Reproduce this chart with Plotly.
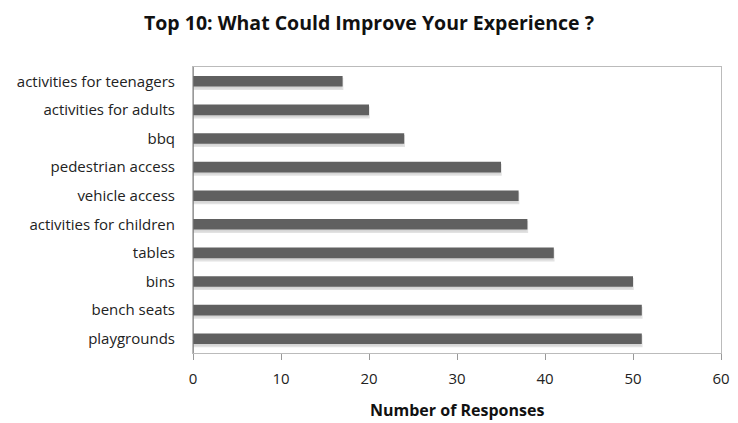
import plotly.graph_objects as go

categories = ["playgrounds", "bench seats", "bins", "tables", "activities for children",
              "vehicle access", "pedestrian access", "bbq", "activities for adults",
              "activities for teenagers"]
responses = [51, 51, 50, 41, 38, 37, 35, 24, 20, 17]
x_ticks = [0, 10, 20, 30, 40, 50, 60]

BAR_W = 0.37

fig = go.Figure()
# soft drop shadow
fig.add_trace(go.Bar(
    x=responses, y=categories, orientation="h",
    width=BAR_W, offset=-BAR_W / 2 - 0.09,
    marker=dict(color="#d6d6d6", line=dict(width=1.5, color="#e2e2e2")),
    hoverinfo="skip",
))
fig.add_trace(go.Bar(
    x=responses, y=categories, orientation="h",
    width=BAR_W, offset=-BAR_W / 2,
    marker=dict(color="#606060", line=dict(width=0)),
))

fig.update_layout(
    width=738, height=423,
    margin=dict(l=193, r=17, t=67, b=70),
    paper_bgcolor="white", plot_bgcolor="white",
    barmode="overlay",
    showlegend=False,
    font=dict(family="Open Sans", color="#111111"),
    title=dict(text="<b>Top 10: What Could Improve Your Experience ?</b>",
               x=0.5, xanchor="center", y=0.945, yanchor="middle",
               font=dict(size=19.5, family="Open Sans", color="#111111")),
    xaxis=dict(range=[0, 60], tickvals=x_ticks, showgrid=False,
               automargin=False,
               ticks="outside", ticklen=6, tickcolor="#999999",
               showline=True, linecolor="#bbbbbb", mirror=True,
               ticklabelstandoff=6,
               tickfont=dict(size=15, color="#222222"),
               zeroline=False),
    yaxis=dict(showgrid=False, automargin=False,
               showline=True, linecolor="#bbbbbb", mirror=True,
               ticks="", ticklabelstandoff=14,
               tickfont=dict(size=15, color="#222222")),
    annotations=[dict(text="<b>Number of Responses</b>", xref="paper", yref="paper",
                      x=0.5, y=-0.2, xanchor="center", yanchor="middle",
                      showarrow=False, font=dict(size=16, color="#111111"))],
)
fig.add_shape(type="line", xref="x", yref="paper", x0=0, x1=0, y0=0, y1=1,
              line=dict(color="#777777", width=1.5))

fig.write_html("out.html")
